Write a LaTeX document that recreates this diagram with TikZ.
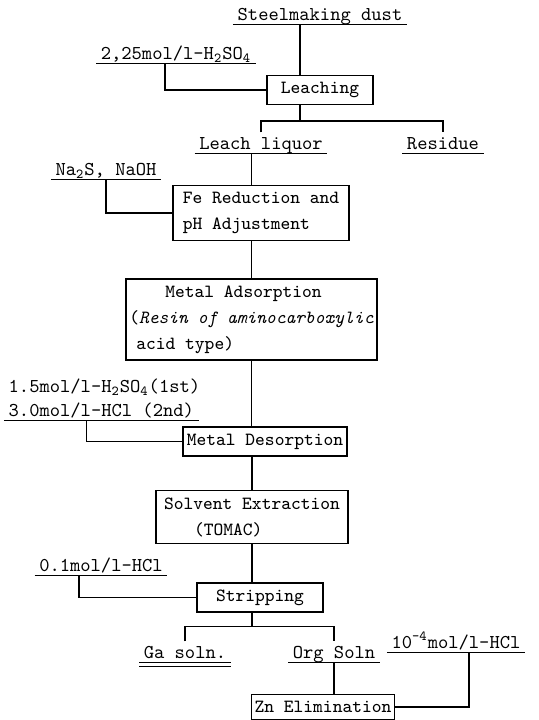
\documentclass[tikz,border=0pt]{standalone}
\usetikzlibrary{calc}

\begin{document}
\begin{tikzpicture}[x=0.5pt, y=-0.5pt, line width=0.7pt,
    font=\fontsize{9.3}{13}\selectfont\ttfamily,
    proc/.style={draw, rectangle, align=left, inner xsep=1.5pt},
    feed/.style={font=\fontsize{9.8}{13}\selectfont\ttfamily, inner xsep=2pt,
      inner ysep=1.5pt, text height=6.5pt, text depth=0.5pt, anchor=base}]
    \useasboundingbox (0,0) rectangle (539,720);

    % Process steps
    \node[proc, minimum width=53pt, minimum height=12pt] (leach) at (320,90) {Leaching};
    \node[proc, minimum width=88pt, minimum height=27pt] (fe) at (261,213)
      {Fe Reduction and\\pH Adjustment};
    \node[proc, minimum width=125.5pt, minimum height=38.5pt] (ads) at (251.5,319.5)
      {\hspace*{18pt}Metal Adsorption\\(\textit{Resin of aminocarboxylic}\\\hspace*{3.5pt}acid type)};
    \node[proc, minimum width=82pt, minimum height=13.5pt] (des) at (265,441.5) {Metal Desorption};
    \node[proc, minimum width=96pt, minimum height=26pt] (sx) at (252,517)
      {Solvent Extraction\\\hspace*{15pt}(TOMAC)};
    \node[proc, minimum width=63pt, minimum height=12.5pt] (strip) at (260,597.5) {Stripping};
    \node[proc, minimum width=70pt, minimum height=12pt] (zn) at (323,707) {Zn Elimination};

    % Feeds, reagents and products
    \node[feed] (dust) at (320,20) {Steelmaking dust};
    \node[feed] (acid1) at (176,59) {2,25mol/l-H\textsubscript{2}SO\textsubscript{4}};
    \node[feed] (liquor) at (261,149) {Leach liquor};
    \node[feed] (residue) at (443,149) {Residue};
    \node[feed] (reag2) at (106,175) {Na\textsubscript{2}S, NaOH};
    \node[feed, anchor=base west] (reag3a) at (4,392) {1.5mol/l-H\textsubscript{2}SO\textsubscript{4}(1st)};
    \node[feed, anchor=base west] (reag3b) at (4,416) {3.0mol/l-HCl (2nd)};
    \node[feed] (reag4) at (101,571) {0.1mol/l-HCl};
    \node[feed] (ga) at (185,658) {Ga soln.};
    \node[feed] (org) at (334,658) {Org Soln};
    \node[feed] (reag5) at (456,648) {10\textsuperscript{-4}mol/l-HCl};

    % Underlines
    \foreach \n in {dust,acid1,liquor,residue,reag2,reag3b,reag4,ga,org,reag5}
      \draw (\n.south west) -- (\n.south east);
    \draw ($(ga.south west)+(0,4)$) -- ($(ga.south east)+(0,4)$);

    % Connectors
    \draw ($(dust.south)+(-20,0)$) -- ($(leach.north)+(-20,0)$);
    \draw ($(acid1.south)+(-11,0)$) |- (leach.west);
    \coordinate (split1) at ($(leach.south)+(-20,16)$);
    \draw ($(leach.south)+(-20,0)$) -- (split1);
    \draw (liquor.north) |- (split1) -| (residue.north);
    \draw (liquor.south -| ads.north) -- (fe.north -| ads.north);
    \draw (reag2.south) |- (fe.west);
    \draw (fe.south -| ads.north) -- (ads.north);
    \draw (ads.south) -- (ads.south |- des.north);
    \draw ($(reag3b.south)+(-15,0)$) |- (des.west);
    \draw (des.south -| sx.north) -- (sx.north);
    \draw (sx.south) -- (sx.south |- strip.north);
    \draw ($(reag4.south)+(-22,0)$) |- (strip.west);
    \coordinate (split2) at ($(strip.south -| sx.south)+(0,14)$);
    \draw (strip.south -| sx.south) -- (split2);
    \draw (ga.north) |- (split2) -| (org.north);
    \draw (org.south) -- (org.south |- zn.north);
    \draw ($(reag5.south)+(13,0)$) |- (zn.east);
\end{tikzpicture}
\end{document}
